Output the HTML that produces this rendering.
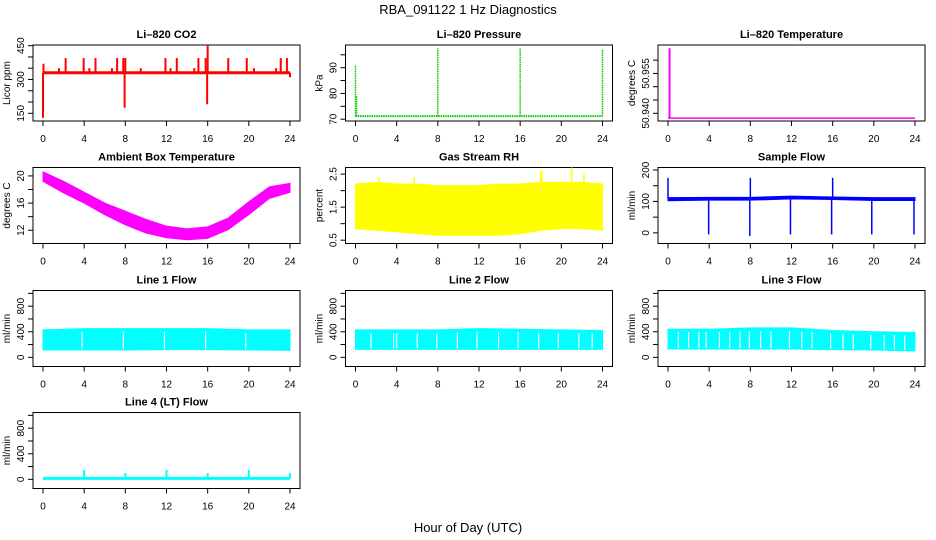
<!DOCTYPE html>
<html><head><meta charset="utf-8"><style>
html,body{margin:0;padding:0;background:#fff}
svg{display:block;font-family:"Liberation Sans",sans-serif}
</style></head><body>
<svg id="chart" width="936" height="540" viewBox="0 0 936 540" xmlns="http://www.w3.org/2000/svg">
<rect width="936" height="540" fill="#fff"/>
<text x="468" y="14" font-size="13" text-anchor="middle">RBA_091122  1 Hz Diagnostics</text>
<text x="468" y="532" font-size="13" text-anchor="middle">Hour of Day (UTC)</text>
</svg>
<script>
// ---- data ----
const xTicks=[0,4,8,12,16,20,24];
const co2Base=330;
const co2SpikeHours=[0,0.05,1.55,2.2,3.95,4.5,5.1,6.7,7.2,7.8,7.93,8.0,9.5,11.9,12.4,13.0,14.7,15.1,15.8,15.95,16.0,18.0,19.8,20.5,22.65,23.1,23.7,24];
const co2SpikeVals=[130,370,350,395,395,350,395,350,395,395,175,395,350,395,350,395,350,395,395,190,450,395,395,350,350,395,395,310];
const pressBase=71.2;
const pressSpikeHours=[0,0.1,8,16,24];
const pressSpikeVals=[91,79,97.5,97.5,97.2];
const liTempBase=50.9382;
const liTempSpikeHours=[0.15];
const liTempSpikeVals=[50.9645];
const ambHours=[0,2,4,6,8,10,12,14,16,18,20,22,24];
const ambUpper=[20.6,19.2,17.6,16.0,14.8,13.6,12.6,12.2,12.5,13.8,16.2,18.4,18.9];
const ambLower=[19.2,17.5,16.0,14.3,12.8,11.6,10.9,10.6,10.8,12.1,14.3,16.7,17.6];
const rhHours=[0,2,4,6,8,10,12,14,16,18,20,22,24];
const rhUpper=[2.2,2.25,2.2,2.2,2.15,2.15,2.15,2.2,2.2,2.25,2.25,2.25,2.2];
const rhLower=[0.85,0.8,0.75,0.7,0.65,0.65,0.65,0.65,0.7,0.8,0.85,0.85,0.8];
const rhSpikeHours=[2.3,5.7,18.0,18.1,21.0,22.2];
const rhSpikeVals=[2.4,2.4,2.6,2.6,2.7,2.5];
const flowHours=[0,4,8,12,16,20,24];
const sampleUpper=[112,113,113,117,114,112,112];
const sampleLower=[102,104,104,108,106,103,103];
const sampleSpikeHours=[0,3.95,7.95,8.0,11.9,15.9,16.0,19.8,23.9];
const sampleSpikeVals=[175,-5,-10,175,-5,-5,175,-5,-5];
const line1Upper=[430,450,450,450,450,430,430];
const line1Lower=[115,115,115,120,120,115,110];
const line1Gaps=[3.8,7.8,11.8,15.8,19.7];
const line2Upper=[430,430,430,450,440,430,420];
const line2Lower=[125,125,125,125,125,125,125];
const line2Gaps=[1.5,3.7,4.0,6.0,7.9,9.9,11.8,13.9,15.8,17.8,19.7,21.7,23.0];
const line3Upper=[440,440,460,460,420,400,390];
const line3Lower=[130,130,130,130,120,115,100];
const line3Gaps=[1.0,2.0,3.0,3.7,5.0,6.0,7.0,7.9,9.0,10.0,11.8,13.0,14.0,15.8,17.0,18.0,19.7,21.0,22.0,23.0];
const line4Base=15;
const line4SpikeHours=[4,8,12,16,20,24];
const line4SpikeVals=[150,100,150,100,150,100];

// ---- layout ----
const NS="http://www.w3.org/2000/svg";
const svg=document.getElementById('chart');
const tops=[45,167.5,290.5,412.5];
function mk(tag,attrs,parent){const e=document.createElementNS(NS,tag);for(const k in attrs)e.setAttribute(k,attrs[k]);(parent||svg).appendChild(e);return e;}
function panel(c,r,lo,hi){const L=33+312.5*c,T=tops[r],W=267,H=76;
 return {L,T,W,H,x:h=>L+10+h*247/24,y:v=>T+H-(v-lo)/(hi-lo)*H};}
function axes(p,name,title,ylab,yt,ylabels,fmt){
 const g=mk('g',{});
 
 
 const b=mk('rect',{x:p.L,y:p.T,width:p.W,height:p.H,fill:'none',stroke:'#000','stroke-width':1},g);
 
 
 const t=mk('text',{x:p.L+p.W/2,y:p.T-7,'font-size':11,'font-weight':'bold','text-anchor':'middle'},g);
 t.textContent=title;
 
 
 const yl=mk('text',{x:0,y:0,'font-size':10,'text-anchor':'middle',transform:`translate(${p.L-23},${p.T+p.H/2}) rotate(-90)`},g);
 yl.textContent=ylab;
 
 
 xTicks.forEach(h=>{const X=p.x(h);
  const tk=mk('line',{x1:X,x2:X,y1:p.T+p.H,y2:p.T+p.H+5,stroke:'#000'},g);
  
  
  const tl=mk('text',{x:X,y:p.T+p.H+21,'font-size':10,'text-anchor':'middle'},g);
  tl.textContent=h;
  
  });
 yt.forEach(v=>{const Y=p.y(v);
  const tk=mk('line',{x1:p.L-5,x2:p.L,y1:Y,y2:Y,stroke:'#000'},g);
  
  });
 ylabels.forEach(v=>{const Y=p.y(v);
  const tl=mk('text',{x:0,y:0,'font-size':10,'text-anchor':'middle',transform:`translate(${p.L-9},${Y}) rotate(-90)`},g);
  tl.textContent=fmt(v);
  
  });
}
function hline(p,name,v,col,w,dash){
 const e=mk('line',{x1:p.x(0),x2:p.x(24),y1:p.y(v),y2:p.y(v),stroke:col,'stroke-width':w});
 if(dash)e.setAttribute('stroke-dasharray',dash);
 
 }
function spikes(p,name,base,hrs,vals,col,w,dash){
 hrs.forEach((h,i)=>{const e=mk('line',{x1:p.x(h),x2:p.x(h),y1:p.y(base),y2:p.y(vals[i]),stroke:col,'stroke-width':w});
  if(dash)e.setAttribute('stroke-dasharray',dash);
  
  });}
function band(p,name,hrs,up,lo,col){
 let d='M'+hrs.map((h,i)=>p.x(h)+','+p.y(up[i])).join('L');
 d+='L'+hrs.slice().reverse().map((h,i)=>p.x(h)+','+p.y(lo[hrs.length-1-i])).join('L')+'Z';
 const e=mk('path',{d:d,fill:col,stroke:col,'stroke-width':1});
 
 }
function gaps(p,name,hrs,up,lo,gh){
 gh.forEach(h=>{const i=Math.min(5,Math.floor(h/4));const t=(h-flowHours[i])/4;
  const u=up[i]+(up[i+1]-up[i])*t;const l=lo[i]+(lo[i+1]-lo[i])*t;
  const e=mk('line',{x1:p.x(h),x2:p.x(h),y1:p.y(u)+3,y2:p.y(l)-1,stroke:'#fff','stroke-width':1.2});
  
  });}
const rng=(a,b,s)=>{const o=[];for(let v=a;v<=b+1e-9;v+=s)o.push(+v.toFixed(4));return o;};

// CO2
let p=panel(0,0,115.8,453);
axes(p,'co2','Li\u2013820 CO2','Licor ppm',rng(150,450,50),[150,300,450],v=>v);
spikes(p,'co2',co2Base,co2SpikeHours,co2SpikeVals,'#ff0000',2);
hline(p,'co2',co2Base,'#ff0000',3);
// Pressure
p=panel(1,0,69.3,98.8);
axes(p,'pressure','Li\u2013820 Pressure','kPa',rng(70,95,5),[70,80,90],v=>v);
hline(p,'pressure',pressBase,'#00cc00',2,'1.5 0.8');
spikes(p,'pressure',pressBase,pressSpikeHours,pressSpikeVals,'#00cc00',1.5,'1.5 0.8');
// Li temp
p=panel(2,0,50.9371,50.9657);
axes(p,'li-temp','Li\u2013820 Temperature','degrees C',rng(50.94,50.96,0.005),[50.94,50.955],v=>v.toFixed(3));
hline(p,'li-temp',liTempBase,'#ff00ff',1.5);
spikes(p,'li-temp',liTempBase,liTempSpikeHours,liTempSpikeVals,'#ff00ff',2);
// Ambient
p=panel(0,1,10.05,21.24);
axes(p,'ambient-temp','Ambient Box Temperature','degrees C',rng(12,20,2),[12,16,20],v=>v);
band(p,'ambient-temp',ambHours,ambUpper,ambLower,'#ff00ff');
// RH
p=panel(1,1,0.40,2.70);
axes(p,'rh','Gas Stream RH','percent',rng(0.5,2.5,0.5),[0.5,1.5,2.5],v=>v.toFixed(1));
band(p,'rh',rhHours,rhUpper,rhLower,'#ffff00');
spikes(p,'rh',2.0,rhSpikeHours,rhSpikeVals,'#ffff00',1.5);
// Sample flow
p=panel(2,1,-33.8,207.9);
axes(p,'sample-flow','Sample Flow','ml/min',rng(0,200,50),[0,100,200],v=>v);
band(p,'sample-flow',flowHours,sampleUpper,sampleLower,'#0000ff');
spikes(p,'sample-flow',108,sampleSpikeHours,sampleSpikeVals,'#0000ff',1.5);
// Line flows
const fl=[[0,2,'line1','Line 1 Flow',line1Upper,line1Lower,line1Gaps],[1,2,'line2','Line 2 Flow',line2Upper,line2Lower,line2Gaps],[2,2,'line3','Line 3 Flow',line3Upper,line3Lower,line3Gaps]];
fl.forEach(f=>{p=panel(f[0],f[1],-143,1045);
 axes(p,f[2]+'-flow',f[3],'ml/min',rng(0,1000,200),[0,400,800],v=>v);
 band(p,f[2]+'-flow',flowHours,f[4],f[5],'#00ffff');
 gaps(p,f[2]+'-flow',flowHours,f[4],f[5],f[6]);});
p=panel(0,3,-143,1045);
axes(p,'line4-flow','Line 4 (LT) Flow','ml/min',rng(0,1000,200),[0,400,800],v=>v);
hline(p,'line4-flow',line4Base,'#00ffff',3);
spikes(p,'line4-flow',line4Base,line4SpikeHours,line4SpikeVals,'#00ffff',2);
</script>
</body></html>
